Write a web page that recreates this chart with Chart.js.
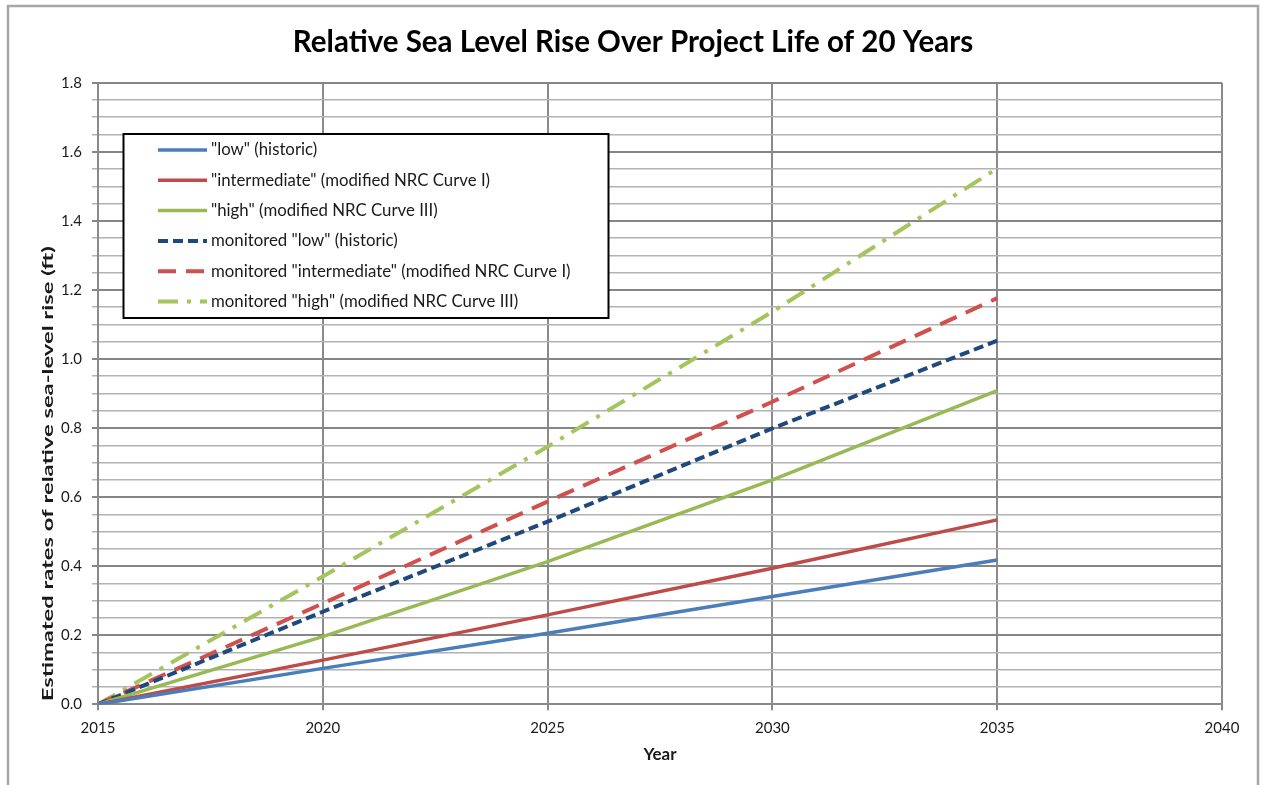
<!DOCTYPE html>
<html>
<head>
<meta charset="utf-8">
<script src="https://cdn.jsdelivr.net/npm/chart.js@4.4.1/dist/chart.umd.min.js"></script>
<style>
  html, body { margin: 0; padding: 0; background: #ffffff; }
  #wrap { position: relative; width: 1262px; height: 785px; }
  canvas { display: block; }
</style>
</head>
<body>
<div id="wrap"><canvas id="chart" width="1262" height="785"></canvas></div>
<script>
// Years sampled along the 20-year project life
const years = [2015, 2020, 2025, 2030, 2035];

// Estimated relative sea-level rise (ft) for each scenario
const lowHistoric          = [0, 0.104, 0.206, 0.312, 0.418];
const intermediateCurveI   = [0, 0.128, 0.259, 0.394, 0.534];
const highCurveIII         = [0, 0.196, 0.413, 0.650, 0.908];
const monitoredLow         = [0, 0.268, 0.529, 0.799, 1.053];
const monitoredIntermediate= [0, 0.292, 0.587, 0.876, 1.176];
const monitoredHigh        = [0, 0.370, 0.746, 1.137, 1.552];

const seriesLabels = [
  '"low" (historic)',
  '"intermediate" (modified NRC Curve I)',
  '"high" (modified NRC Curve III)',
  'monitored "low" (historic)',
  'monitored "intermediate" (modified NRC Curve I)',
  'monitored "high" (modified NRC Curve III)'
];

const chartTitle = 'Relative Sea Level Rise Over Project Life of 20 Years';
const xAxisTitle = 'Year';
const yAxisTitle = 'Estimated rates of relative sea-level rise (ft)';

const xTicks = { min: 2015, max: 2040, step: 5 };
const yTicks = { min: 0, max: 1.8, step: 0.05, labelStep: 0.2 };

const FONT = 'Lato, "Open Sans", "DejaVu Sans", sans-serif';

function pts(values) {
  return years.map((yr, i) => ({ x: yr, y: values[i] }));
}

const styles = [
  { color: '#4a7ebb', dash: [] },
  { color: '#be4b48', dash: [] },
  { color: '#98b954', dash: [] },
  { color: '#1f497d', dash: [10, 5] },
  { color: '#d0504d', dash: [18, 10] },
  { color: '#a4c45e', dash: [20, 9, 4, 9] }
];

const seriesValues = [lowHistoric, intermediateCurveI, highCurveIII,
                      monitoredLow, monitoredIntermediate, monitoredHigh];

const datasets = seriesValues.map((vals, i) => ({
  label: seriesLabels[i],
  data: pts(vals),
  borderColor: styles[i].color,
  backgroundColor: styles[i].color,
  borderDash: styles[i].dash,
  borderWidth: i < 3 ? 3.5 : 4,
  borderCapStyle: 'butt',
  pointRadius: 0,
  fill: false,
  tension: 0
}));

// Outer gray frame around the figure
const framePlugin = {
  id: 'frame',
  beforeDraw(chart) {
    const ctx = chart.ctx;
    ctx.save();
    ctx.fillStyle = '#ffffff';
    ctx.fillRect(0, 0, chart.width, chart.height);
    ctx.strokeStyle = '#a6a6a6';
    ctx.lineWidth = 2.5;
    ctx.strokeRect(8, 6, 1250, 900);
    ctx.restore();
  }
};

// Vertical y-axis title, stretched along its length, bottom-aligned with the plot
const yTitlePlugin = {
  id: 'yTitle',
  afterDraw(chart) {
    const ctx = chart.ctx;
    const area = chart.chartArea;
    ctx.save();
    ctx.translate(48, area.bottom - 3);
    ctx.rotate(-Math.PI / 2);
    ctx.font = 'bold 15px ' + FONT;
    const w = ctx.measureText(yAxisTitle).width;
    ctx.scale(455 / w, 1);
    ctx.fillStyle = '#1a1a1a';
    ctx.textAlign = 'left';
    ctx.textBaseline = 'middle';
    ctx.fillText(yAxisTitle, 0, 0);
    ctx.restore();
  }
};

// Boxed legend drawn inside the plot area
const boxLegendPlugin = {
  id: 'boxLegend',
  afterDraw(chart) {
    const ctx = chart.ctx;
    const box = { x: 123.5, y: 134, w: 485, h: 184 };
    ctx.save();
    ctx.fillStyle = '#ffffff';
    ctx.fillRect(box.x, box.y, box.w, box.h);
    ctx.strokeStyle = '#000000';
    ctx.lineWidth = 2;
    ctx.strokeRect(box.x, box.y, box.w, box.h);
    ctx.font = '16.8px ' + FONT;
    ctx.textBaseline = 'middle';
    ctx.textAlign = 'left';
    chart.data.datasets.forEach((ds, i) => {
      const yc = 150 + i * 30.3;
      ctx.beginPath();
      ctx.strokeStyle = ds.borderColor;
      ctx.lineWidth = ds.borderWidth;
      ctx.lineCap = 'butt';
      ctx.setLineDash(ds.borderDash || []);
      ctx.moveTo(158, yc);
      ctx.lineTo(207, yc);
      ctx.stroke();
      ctx.setLineDash([]);
      ctx.fillStyle = '#1a1a1a';
      ctx.fillText(ds.label, 211, yc);
    });
    ctx.restore();
  }
};

const isMajorY = v => Math.round(v * 100) % Math.round(yTicks.labelStep * 100) === 0;

new Chart(document.getElementById('chart'), {
  type: 'line',
  data: { datasets },
  options: {
    responsive: false,
    animation: false,
    layout: { padding: { left: 44, right: 40, top: 0, bottom: 0 } },
    plugins: {
      legend: { display: false },
      tooltip: { enabled: false },
      title: {
        display: true,
        text: chartTitle,
        color: '#000000',
        font: { family: FONT, size: 29.5, weight: 'bold', lineHeight: 1.2 },
        padding: { top: 24.3, bottom: 23 }
      }
    },
    scales: {
      x: {
        type: 'linear',
        min: xTicks.min,
        max: xTicks.max,
        afterFit: s => { s.height = 80.7; },
        ticks: {
          stepSize: xTicks.step,
          color: '#1a1a1a',
          font: { family: FONT, size: 15 },
          padding: 9,
          maxRotation: 0,
          callback: v => String(v)
        },
        grid: { color: '#8a8a8a', lineWidth: 2, tickLength: 6, drawTicks: true },
        border: { display: true, color: '#8a8a8a', width: 2 },
        title: {
          display: true,
          text: xAxisTitle,
          color: '#1a1a1a',
          font: { family: FONT, size: 17, weight: 'bold', lineHeight: 1.2 },
          padding: { top: 0, bottom: 20 }
        }
      },
      y: {
        min: yTicks.min,
        max: yTicks.max,
        afterFit: s => { s.width = 54; },
        ticks: {
          stepSize: yTicks.step,
          autoSkip: false,
          color: '#1a1a1a',
          font: { family: FONT, size: 15 },
          padding: 10,
          callback: v => isMajorY(v) ? v.toFixed(1) : ''
        },
        grid: {
          color: c => isMajorY(c.tick.value) ? '#868686' : '#b2b2b2',
          lineWidth: c => isMajorY(c.tick.value) ? 2 : 1.5,
          tickLength: 6,
          drawTicks: true
        },
        border: { display: true, color: '#8a8a8a', width: 2 },
        title: { display: false }
      }
    }
  },
  plugins: [framePlugin, yTitlePlugin, boxLegendPlugin]
});
</script>
</body>
</html>
